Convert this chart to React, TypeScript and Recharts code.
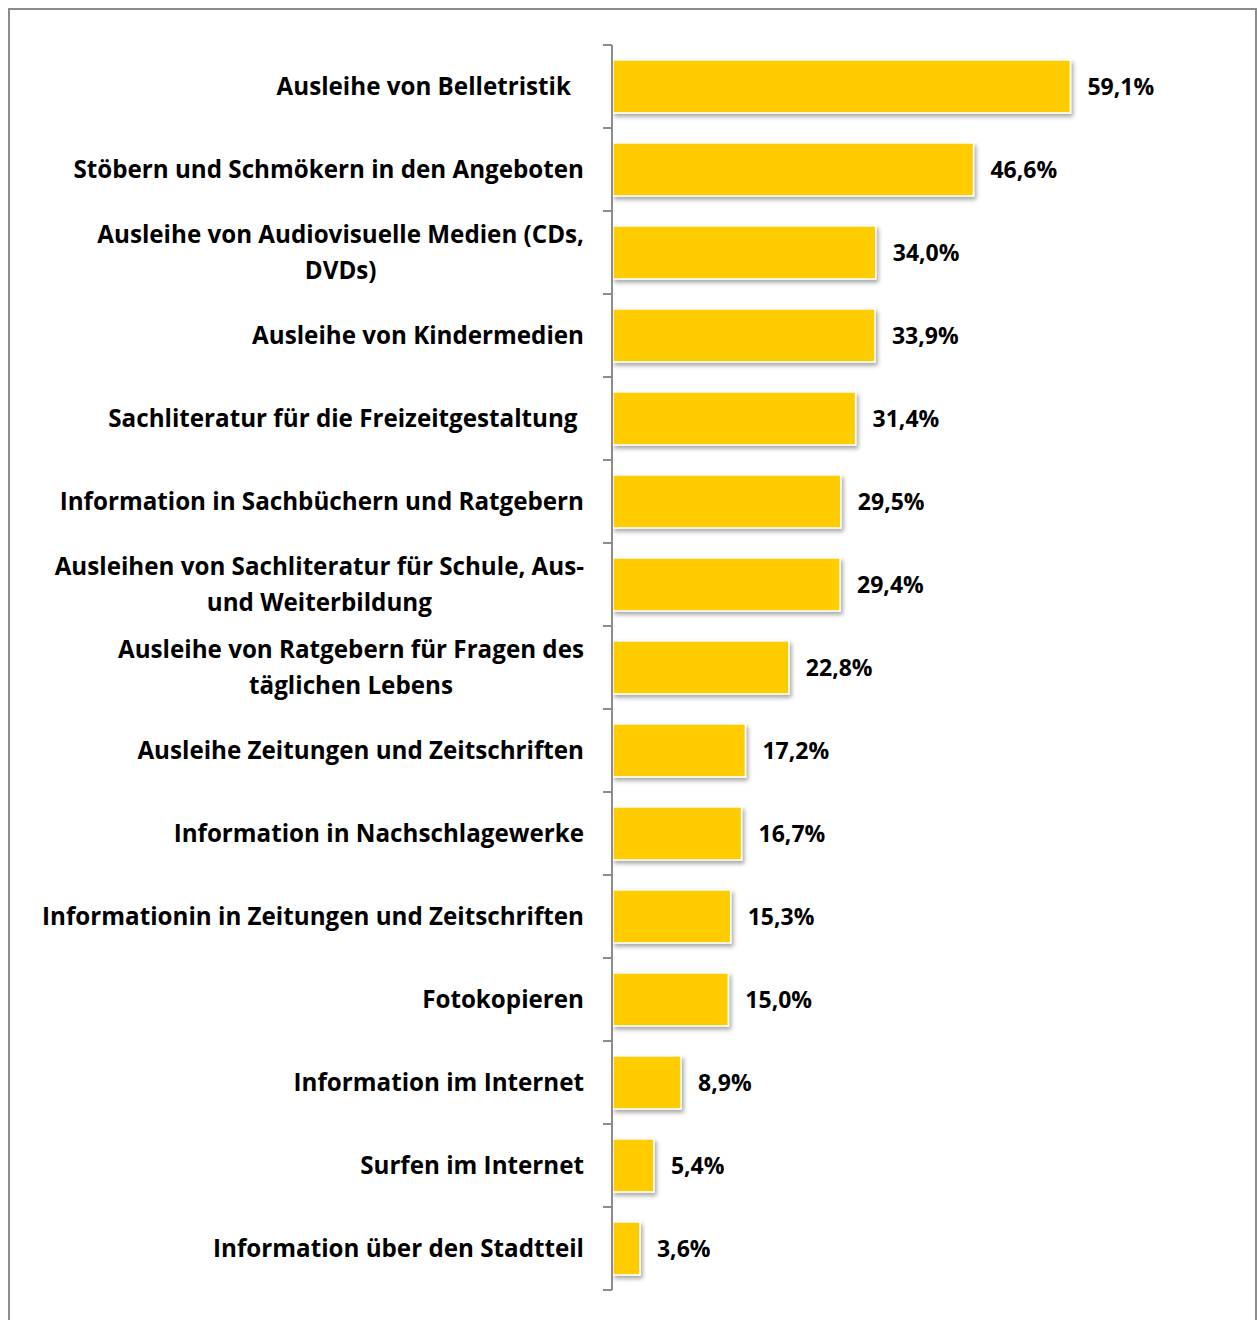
import React from 'react';
import { BarChart, Bar, XAxis, YAxis, LabelList } from 'recharts';

const categories: string[] = [
  'Ausleihe von Belletristik  ',
  'Stöbern und Schmökern in den Angeboten',
  'Ausleihe von Audiovisuelle Medien (CDs,\nDVDs)',
  'Ausleihe von Kindermedien',
  'Sachliteratur für die Freizeitgestaltung ',
  'Information in Sachbüchern und Ratgebern',
  'Ausleihen von Sachliteratur für Schule, Aus-\nund Weiterbildung',
  'Ausleihe von Ratgebern für Fragen des\ntäglichen Lebens',
  'Ausleihe Zeitungen und Zeitschriften',
  'Information in Nachschlagewerke',
  'Informationin in Zeitungen und Zeitschriften',
  'Fotokopieren',
  'Information im Internet',
  'Surfen im Internet',
  'Information über den Stadtteil',
];

const values: number[] = [59.1, 46.6, 34.0, 33.9, 31.4, 29.5, 29.4, 22.8, 17.2, 16.7, 15.3, 15.0, 8.9, 5.4, 3.6];

const data = categories.map((name, i) => ({ name, value: values[i] }));

const FONT = '"Open Sans", "Noto Sans", sans-serif';
const LABEL_SIZE = 24.2;
const LINE_HEIGHT = 36;
const CHART_W = 1245;
const CHART_H = 1310;
const MARGIN = { top: 35, right: 100, bottom: 30, left: 0 };
const Y_WIDTH = 602;
const TICK_MARGIN = 28;
const TICK_LEN = 9;
const AXIS_COLOR = '#8c8c8c';

const measureCtx = (() => {
  const c = document.createElement('canvas');
  return c.getContext('2d');
})();

function textWidth(s: string): number {
  if (!measureCtx) return s.length * 12;
  measureCtx.font = `bold ${LABEL_SIZE}px ${FONT}`;
  return measureCtx.measureText(s.replace(/\s+$/, '')).width;
}

const CategoryTick = (props: any) => {
  const { x, y, payload, index } = props;
  const label: string = String(payload.value);
  const lines = label.split('\n');
  const band = (CHART_H - MARGIN.top - MARGIN.bottom) / categories.length;
  const axisX = x + TICK_MARGIN;
  const trailing = (label.match(/ +$/) || [''])[0].length;
  const rightEdge = x - trailing * 6.5;
  const blockW = Math.max(...lines.map(textWidth));
  const startY = y - 2 - ((lines.length - 1) * LINE_HEIGHT) / 2;
  const isLast = index === categories.length - 1;
  return (
    <g>
      <line x1={axisX - TICK_LEN} x2={axisX} y1={y - band / 2} y2={y - band / 2} stroke={AXIS_COLOR} strokeWidth={2} />
      {isLast && (
        <line x1={axisX - TICK_LEN} x2={axisX} y1={y + band / 2} y2={y + band / 2} stroke={AXIS_COLOR} strokeWidth={2} />
      )}
      <text
        fontFamily={FONT}
        fontWeight={700}
        fontSize={LABEL_SIZE}
        fill="#000"
        textAnchor={lines.length > 1 ? 'middle' : 'end'}
        dominantBaseline="central"
      >
        {lines.map((ln, i) => (
          <tspan key={i} x={lines.length > 1 ? rightEdge - blockW / 2 : rightEdge} y={startY + i * LINE_HEIGHT}>
            {ln.trim()}
          </tspan>
        ))}
      </text>
    </g>
  );
};

const ShadowBar = (props: any) => {
  const { x, y, width, height } = props;
  if (width <= 0) return null;
  return (
    <rect x={x + 1} y={y} width={width - 1} height={height} fill="#FFCC00" stroke="#ffffff" strokeWidth={1.5} filter="url(#barShadow)" />
  );
};

const fmt = (v: any) => `${Number(v).toFixed(1).replace('.', ',')}%`;

export default function App() {
  return (
    <div
      style={{
        position: 'fixed',
        left: 8,
        top: 8,
        width: CHART_W,
        height: 1330,
        border: `2px solid ${AXIS_COLOR}`,
        background: '#fff',
        boxSizing: 'content-box',
        overflow: 'hidden',
      }}
    >
      <BarChart
        width={CHART_W}
        height={CHART_H}
        data={data}
        layout="vertical"
        margin={MARGIN}
        barCategoryGap="18%"
      >
        <defs>
          <filter id="barShadow" x="-10%" y="-20%" width="130%" height="160%">
            <feDropShadow dx="2" dy="3" stdDeviation="2" floodColor="#000" floodOpacity="0.35" />
          </filter>
        </defs>
        <XAxis type="number" domain={[0, 70]} hide />
        <YAxis
          type="category"
          dataKey="name"
          width={Y_WIDTH}
          axisLine={{ stroke: AXIS_COLOR, strokeWidth: 2 }}
          tickLine={false}
          tickSize={0}
          tickMargin={TICK_MARGIN}
          tick={<CategoryTick />}
          interval={0}
        />
        <Bar dataKey="value" isAnimationActive={false} shape={<ShadowBar />}>
          <LabelList
            dataKey="value"
            position="right"
            offset={17}
            formatter={fmt}
            fill="#000"
            fontFamily={FONT}
            fontWeight={700}
            fontSize={23}
          />
        </Bar>
      </BarChart>
    </div>
  );
}
